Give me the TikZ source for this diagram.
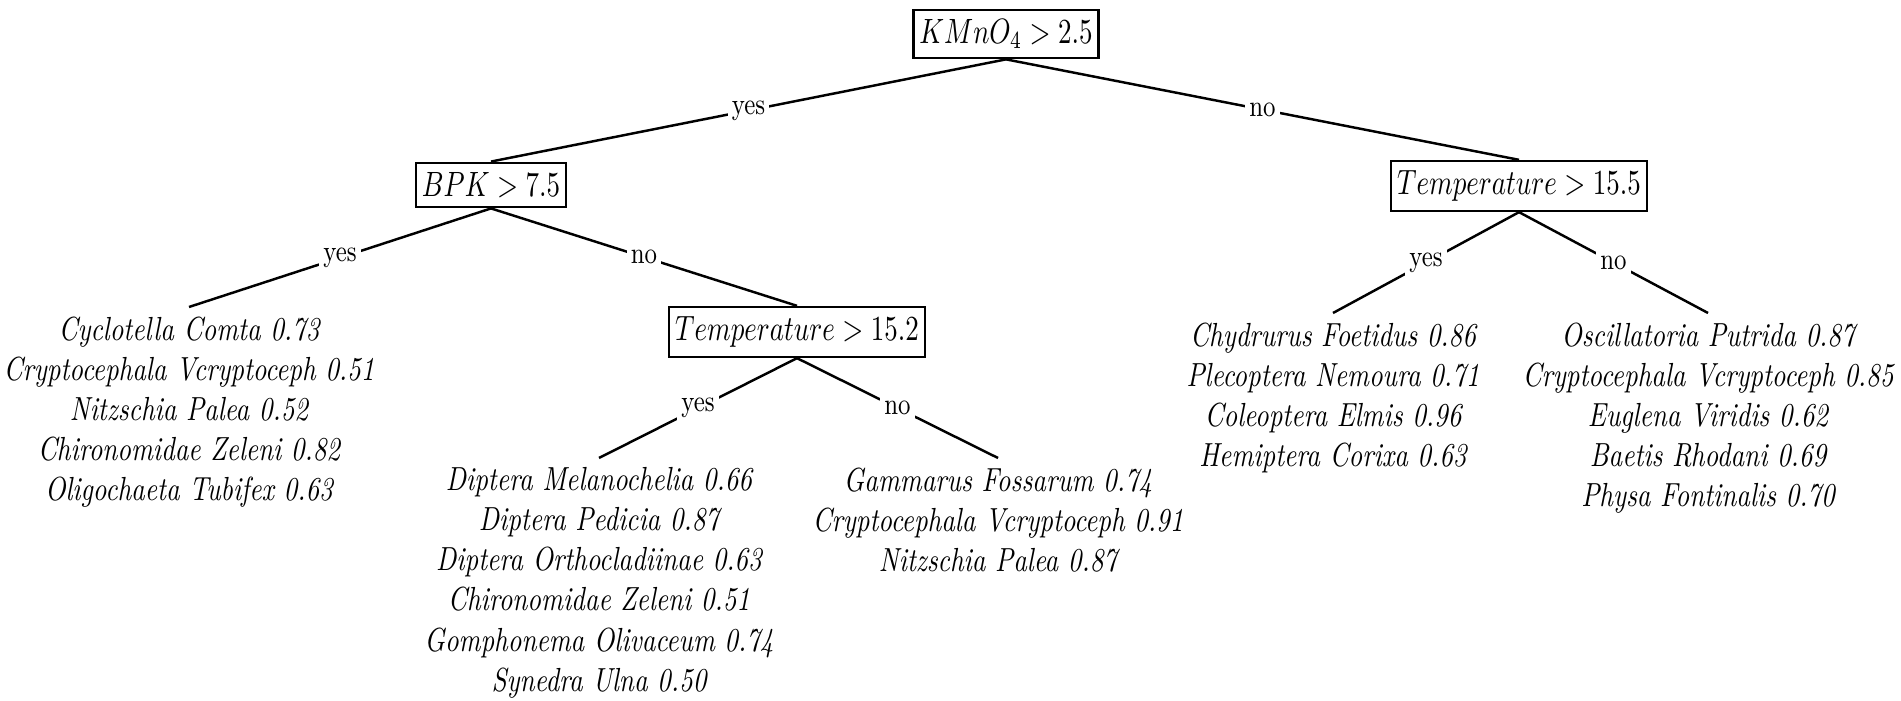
\documentclass[tikz,border=0pt]{standalone}
\begin{document}
\begin{tikzpicture}[x=0.01cm, y=-0.01cm,
  every node/.style={xscale=0.8, transform shape},
  cond/.style={draw, xscale=0.96, line width=0.7pt, inner xsep=2.2pt, inner ysep=2.7pt, font=\fontsize{10}{12}\selectfont},
  leaf/.style={align=center, anchor=north, inner sep=2.5pt, font=\fontsize{9.5}{11.4}\selectfont\itshape},
  lab/.style={fill=white, inner sep=1.5pt, font=\fontsize{8.6}{10}\selectfont},
  edge/.style={line width=0.7pt}]
\useasboundingbox (0,0) rectangle (1901,701);

% decision nodes
\node[cond] (root) at (1006,34) {$KMnO_4 > 2.5$};
\node[cond] (bpk)  at (491,185) {$BPK > 7.5$};
\node[cond] (t155) at (1519,186) {$Temperature > 15.5$};
\node[cond] (t152) at (797,332) {$Temperature > 15.2$};

% leaves
\node[leaf] (l1) at (189,307) {Cyclotella Comta 0.73\\Cryptocephala Vcryptoceph 0.51\\Nitzschia Palea 0.52\\Chironomidae Zeleni 0.82\\Oligochaeta Tubifex 0.63};
\node[leaf] (l2) at (599,458) {Diptera Melanochelia 0.66\\Diptera Pedicia 0.87\\Diptera Orthocladiinae 0.63\\Chironomidae Zeleni 0.51\\Gomphonema Olivaceum 0.74\\Synedra Ulna 0.50};
\node[leaf] (l3) at (998,458) {Gammarus Fossarum 0.74\\Cryptocephala Vcryptoceph 0.91\\Nitzschia Palea 0.87};
\node[leaf] (l4) at (1333,313) {Chydrurus Foetidus 0.86\\Plecoptera Nemoura 0.71\\Coleoptera Elmis 0.96\\Hemiptera Corixa 0.63};
\node[leaf] (l5) at (1708,313) {Oscillatoria Putrida 0.87\\Cryptocephala Vcryptoceph 0.85\\Euglena Viridis 0.62\\Baetis Rhodani 0.69\\Physa Fontinalis 0.70};

% branches
\draw[edge] (root.south) -- node[lab]{yes} (bpk.north);
\draw[edge] (root.south) -- node[lab]{no} (t155.north);
\draw[edge] (bpk.south) -- node[lab]{yes} (l1.north);
\draw[edge] (bpk.south) -- node[lab]{no} (t152.north);
\draw[edge] (t152.south) -- node[lab]{yes} (l2.north);
\draw[edge] (t152.south) -- node[lab]{no} (l3.north);
\draw[edge] (t155.south) -- node[lab]{yes} (l4.north);
\draw[edge] (t155.south) -- node[lab]{no} (l5.north);
\end{tikzpicture}
\end{document}
